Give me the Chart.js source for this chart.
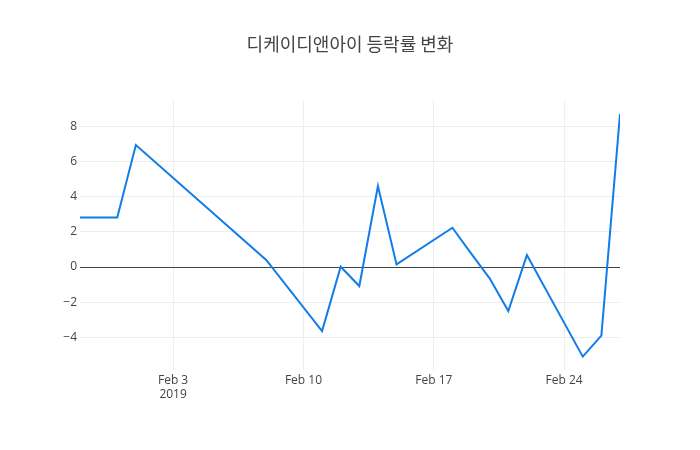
<!DOCTYPE html>
<html>
<head>
<meta charset="utf-8">
<script src="https://cdn.jsdelivr.net/npm/chart.js@4"></script>
<style>
  html, body { margin: 0; padding: 0; background: #fff; }
  #wrap { width: 700px; height: 450px; }
</style>
</head>
<body>
<div id="wrap"><canvas id="rate-chart"></canvas></div>
<script>
// 날짜 (2019년 1월 29일부터 센 날 수)
const dayLabels = ["Jan 29", "Jan 31", "Feb 1", "Feb 8", "Feb 11", "Feb 12", "Feb 13", "Feb 14", "Feb 15",
  "Feb 18", "Feb 19", "Feb 20", "Feb 21", "Feb 22", "Feb 25", "Feb 26", "Feb 27"];
const dayOffsets = [0, 2, 3, 10, 13, 14, 15, 16, 17, 20, 21, 22, 23, 24, 27, 28, 29];
// 등락률 (%)
const rates = [2.82, 2.82, 6.93, 0.40, -3.64, 0.02, -1.08, 4.60, 0.15, 2.23, 0.78, -0.64, -2.5, 0.68, -5.09, -3.90, 8.69];

// 축 눈금
const xTickValues = [5, 12, 19, 26];
const xTickLabels = [["Feb 3", "2019"], "Feb 10", "Feb 17", "Feb 24"];
const yTickValues = [-4, -2, 0, 2, 4, 6, 8];

const points = dayOffsets.map((d, i) => ({ x: d, y: rates[i] }));

var ctx = document.getElementById("rate-chart");

new Chart(ctx, {
  type: "line",
  data: {
    datasets: [{
      label: "등락률",
      data: points,
      borderColor: "rgb(18,125,232)",
      borderWidth: 2,
      pointRadius: 0,
      tension: 0,
      fill: false
    }]
  },
  options: {
    responsive: true,
    maintainAspectRatio: false,
    animation: false,
    layout: { padding: 0 },
    plugins: {
      legend: { display: false },
      tooltip: { enabled: false },
      title: {
        display: true,
        text: "디케이디앤아이 등락률 변화",
        color: "#444",
        font: { family: "'Noto Sans CJK KR', 'Open Sans', sans-serif", size: 18, weight: "normal", lineHeight: 1.2 },
        padding: { top: 33, bottom: 45.4 }
      }
    },
    scales: {
      x: {
        type: "linear",
        min: 0,
        max: 29,
        border: { display: false },
        grid: { color: "#eee", drawTicks: false },
        ticks: {
          color: "#444",
          font: { family: "'Open Sans', sans-serif", size: 12 },
          padding: 3,
          maxRotation: 0,
          callback: function (v) {
            const i = xTickValues.indexOf(v);
            return i >= 0 ? xTickLabels[i] : "";
          }
        },
        afterBuildTicks: function (scale) {
          scale.ticks = xTickValues.map(v => ({ value: v }));
        },
        afterFit: function (scale) { scale.height = 80; }
      },
      y: {
        type: "linear",
        min: -5.85,
        max: 9.49,
        border: { display: false },
        grid: {
          color: ctx => ctx.tick && ctx.tick.value === 0 ? "#444" : "#eee",
          lineWidth: 1,
          drawTicks: false
        },
        ticks: {
          color: "#444",
          font: { family: "'Open Sans', sans-serif", size: 12 },
          padding: 3,
          callback: v => (v < 0 ? "\u2212" + Math.abs(v) : String(v))
        },
        afterBuildTicks: function (scale) {
          scale.ticks = yTickValues.map(v => ({ value: v }));
        },
        afterFit: function (scale) { scale.width = 80; }
      },
      // 오른쪽 여백용 빈 축
      yRight: {
        type: "linear",
        position: "right",
        min: -5.85,
        max: 9.49,
        border: { display: false },
        grid: { display: false, drawTicks: false },
        ticks: { display: false },
        afterFit: function (scale) { scale.width = 80; }
      }
    }
  }
});
</script>
</body>
</html>
